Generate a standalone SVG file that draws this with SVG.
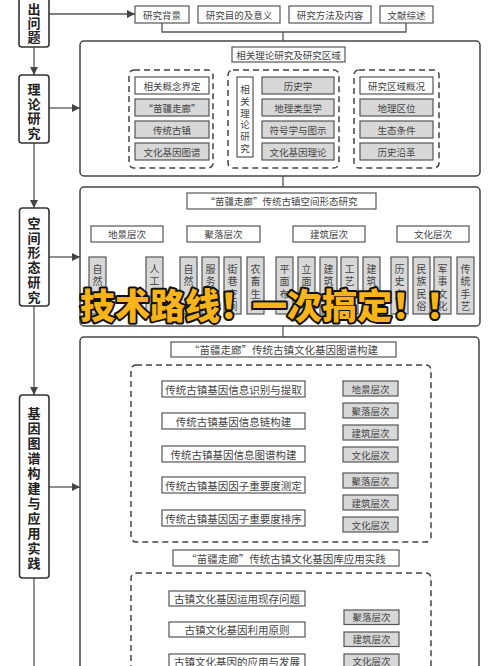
<svg xmlns="http://www.w3.org/2000/svg" width="500" height="666" viewBox="0 0 500 666">
<defs>
<marker id="ar" markerUnits="userSpaceOnUse" markerWidth="8" markerHeight="8" refX="8" refY="4" orient="auto"><path d="M0,0 L8,4 L0,8 z" fill="#444"/></marker>
<style>
.b{fill:#fff;stroke:#555;stroke-width:1.2}
.g{fill:#d8d8d8;stroke:#555;stroke-width:1.2}
.L{fill:#fff;stroke:#333;stroke-width:1.6}
.sec{fill:#fff;stroke:#444;stroke-width:1.5}
.d{fill:none;stroke:#444;stroke-width:1.5;stroke-dasharray:6 4}
.c{fill:none;stroke:#555;stroke-width:1.3}
.t{font-family:"Noto Sans CJK SC","Noto Sans",sans-serif;font-size:9.5px;fill:#444;text-anchor:middle;dominant-baseline:central}
.m{font-size:10.5px}
.lt{font-family:"Noto Sans CJK SC",sans-serif;font-size:13px;font-weight:bold;fill:#222;text-anchor:middle;dominant-baseline:central}
.v{font-size:10px}
.ov{font-family:"Noto Sans CJK SC",sans-serif;font-size:35px;font-weight:900;fill:#F8B418;stroke:#111;stroke-width:4;paint-order:stroke;stroke-linejoin:round}
</style>
</defs>
<rect width="500" height="666" fill="#fff"/>

<!-- connectors -->
<g id="connectors">
<path class="c" d="M34,47 V75" marker-end="url(#ar)"/>
<path class="c" d="M34,143 V208" marker-end="url(#ar)"/>
<path class="c" d="M34,306 V395" marker-end="url(#ar)"/>
<path class="c" d="M34,578 V666"/>
<path class="c" d="M49,14 H135" marker-end="url(#ar)"/>
<path class="c" d="M49,108 H80" marker-end="url(#ar)"/>
<path class="c" d="M49,257 H80" marker-end="url(#ar)"/>
<path class="c" d="M49,487 H80" marker-end="url(#ar)"/>
<path class="c" d="M162,23 V32 H406 V23 M283,32 V41"/>
<path class="c" d="M232,54.5 H172 V70 M345,54.5 H397 V70 M283,62 V70"/>
<path class="c" d="M283,176 V187"/>
<path class="c" d="M283,209 V217 M127,226 V217 H433 V226 M223.5,217 V226 M329,217 V226"/>
<path class="c" d="M127,242 V252 M97.5,257 V252 H154.5 V257"/>
<path class="c" d="M223.5,242 V252 M188.5,257 V252 H255.5 V257 M210.5,252 V257 M232.5,252 V257"/>
<path class="c" d="M329,242 V252 M284.5,257 V252 H371.5 V257 M306.5,252 V257 M328.5,252 V257 M349.5,252 V257"/>
<path class="c" d="M433,242 V252 M399.5,257 V252 H465.5 V257 M421.5,252 V257 M442.5,252 V257"/>
<path class="c" d="M283,326 V337"/>
<path class="c" d="M283,357 V369 H233 V381" marker-end="url(#ar)"/>
<path class="c" d="M233,397 V413" marker-end="url(#ar)"/>
<path class="c" d="M233,429 V446" marker-end="url(#ar)"/>
<path class="c" d="M233,462 V477" marker-end="url(#ar)"/>
<path class="c" d="M233,493 V510" marker-end="url(#ar)"/>
<path class="c" d="M305,389 H316 V454 H305 M316,421 H328 M343,388.5 H328 V454.5 H343"/>
<path class="c" d="M305,485 H316 V518 H305 M316,501 H328 M343,480.5 H328 V524.5 H343"/>
<path class="c" d="M286,566 V579 H236 V591" marker-end="url(#ar)"/>
<path class="c" d="M236,606 V622" marker-end="url(#ar)"/>
<path class="c" d="M236,637 V654" marker-end="url(#ar)"/>
<path class="c" d="M305,661 H329 M344,617 H329 V670 M329,639 H344 M329,661 H344"/>
</g>

<!-- left column -->
<g id="n-tichu"><rect class="L" x="19" y="-20" width="30" height="67" rx="3"/>
<text class="lt"><tspan x="34" y="8">出</tspan><tspan x="34" y="22">问</tspan><tspan x="34" y="36">题</tspan></text></g>
<g id="n-lilun"><rect class="L" x="19" y="75" width="30" height="68" rx="3"/>
<text class="lt"><tspan x="34" y="88">理</tspan><tspan x="34" y="102.5">论</tspan><tspan x="34" y="117">研</tspan><tspan x="34" y="131.5">究</tspan></text></g>
<g id="n-kongjian"><rect class="L" x="19.5" y="208" width="29.5" height="98" rx="3"/>
<text class="lt"><tspan x="34" y="222">空</tspan><tspan x="34" y="236.7">间</tspan><tspan x="34" y="251.4">形</tspan><tspan x="34" y="266.1">态</tspan><tspan x="34" y="280.8">研</tspan><tspan x="34" y="295.5">究</tspan></text></g>
<g id="n-jiyin"><rect class="L" x="19.5" y="395" width="29.5" height="183" rx="3"/>
<text class="lt"><tspan x="34" y="412">基</tspan><tspan x="34" y="427">因</tspan><tspan x="34" y="442">图</tspan><tspan x="34" y="457">谱</tspan><tspan x="34" y="472">构</tspan><tspan x="34" y="487">建</tspan><tspan x="34" y="502">与</tspan><tspan x="34" y="517">应</tspan><tspan x="34" y="532">用</tspan><tspan x="34" y="547">实</tspan><tspan x="34" y="562">践</tspan></text></g>

<!-- top row -->
<g id="n-beijing"><rect class="b" x="135" y="6" width="54" height="17"/><text class="t" x="162" y="14.5">研究背景</text></g>
<g id="n-mudi"><rect class="b" x="198" y="6" width="82" height="17"/><text class="t" x="239" y="14.5">研究目的及意义</text></g>
<g id="n-fangfa"><rect class="b" x="289" y="6" width="82" height="17"/><text class="t" x="330" y="14.5">研究方法及内容</text></g>
<g id="n-wenxian"><rect class="b" x="380" y="6" width="53" height="17"/><text class="t" x="406.5" y="14.5">文献综述</text></g>

<!-- theory section -->
<g id="sec-theory">
<rect class="sec" x="80" y="41" width="400" height="135" rx="4"/>
<rect class="b" x="232" y="47" width="113" height="15"/><text class="t" x="288.5" y="54.5">相关理论研究及研究区域</text>
<rect class="d" x="129" y="70" width="84" height="98" rx="5"/>
<rect class="d" x="228" y="70" width="111" height="98" rx="5"/>
<rect class="d" x="354" y="70" width="85" height="98" rx="5"/>
</g>
<g id="n-gainian"><rect class="b" x="135" y="77" width="74" height="17"/><text class="t" x="172" y="85.5">相关概念界定</text></g>
<g id="n-miaojiang"><rect class="g" x="135" y="99" width="74" height="17"/><text class="t" x="172" y="107.5">“苗疆走廊”</text></g>
<g id="n-guzhen"><rect class="g" x="135" y="121" width="74" height="17"/><text class="t" x="172" y="129.5">传统古镇</text></g>
<g id="n-tupu"><rect class="g" x="135" y="143" width="74" height="17"/><text class="t" x="172" y="151.5">文化基因图谱</text></g>
<g id="n-xiangguan"><rect class="b" x="237" y="77" width="16" height="80"/>
<text class="t"><tspan x="245" y="89">相</tspan><tspan x="245" y="100.8">关</tspan><tspan x="245" y="112.6">理</tspan><tspan x="245" y="124.4">论</tspan><tspan x="245" y="136.2">研</tspan><tspan x="245" y="148">究</tspan></text></g>
<g id="n-lishixue"><rect class="g" x="262" y="77" width="72" height="17"/><text class="t" x="298" y="85.5">历史学</text></g>
<g id="n-dili"><rect class="g" x="262" y="99" width="72" height="17"/><text class="t" x="298" y="107.5">地理类型学</text></g>
<g id="n-fuhao"><rect class="g" x="262" y="121" width="72" height="17"/><text class="t" x="298" y="129.5">符号学与图示</text></g>
<g id="n-jiyinlilun"><rect class="g" x="262" y="143" width="72" height="17"/><text class="t" x="298" y="151.5">文化基因理论</text></g>
<g id="n-quyu"><rect class="b" x="360" y="77" width="73" height="17"/><text class="t" x="396.5" y="85.5">研究区域概况</text></g>
<g id="n-quwei"><rect class="g" x="360" y="99" width="73" height="17"/><text class="t" x="396.5" y="107.5">地理区位</text></g>
<g id="n-shengtai"><rect class="g" x="360" y="121" width="73" height="17"/><text class="t" x="396.5" y="129.5">生态条件</text></g>
<g id="n-yange"><rect class="g" x="360" y="143" width="73" height="17"/><text class="t" x="396.5" y="151.5">历史沿革</text></g>

<!-- spatial section -->
<g id="sec-spatial"><rect class="sec" x="80" y="187" width="400" height="139" rx="4"/></g>
<g id="n-sp-title"><rect class="b" x="187" y="193" width="189" height="16"/><text class="t" x="281.5" y="201">“苗疆走廊”传统古镇空间形态研究</text></g>
<g id="n-dijing"><rect class="b" x="91" y="226" width="72" height="16"/><text class="t" x="127" y="234">地景层次</text></g>
<g id="n-juluo"><rect class="b" x="187" y="226" width="73" height="16"/><text class="t" x="223.5" y="234">聚落层次</text></g>
<g id="n-jianzhu"><rect class="b" x="293" y="226" width="72" height="16"/><text class="t" x="329" y="234">建筑层次</text></g>
<g id="n-wenhua"><rect class="b" x="397" y="226" width="72" height="16"/><text class="t" x="433" y="234">文化层次</text></g>

<g id="n-s1"><rect class="g" x="89" y="257" width="17" height="57"/><text class="t v"><tspan x="97.5" y="268">自</tspan><tspan x="97.5" y="280.3">然</tspan></text></g>
<g id="n-s2"><rect class="g" x="146" y="257" width="17" height="57"/><text class="t v"><tspan x="154.5" y="268">人</tspan><tspan x="154.5" y="280.3">工</tspan></text></g>
<g id="n-s3"><rect class="g" x="180" y="257" width="17" height="57"/><text class="t v"><tspan x="188.5" y="268">自</tspan><tspan x="188.5" y="280.3">然</tspan></text></g>
<g id="n-s4"><rect class="g" x="202" y="257" width="17" height="57"/><text class="t v"><tspan x="210.5" y="268">服</tspan><tspan x="210.5" y="280.3">务</tspan></text></g>
<g id="n-s5"><rect class="g" x="224" y="257" width="17" height="57"/><text class="t v"><tspan x="232.5" y="268">街</tspan><tspan x="232.5" y="280.3">巷</tspan><tspan x="232.5" y="292.6">空</tspan><tspan x="232.5" y="304.9">间</tspan></text></g>
<g id="n-s6"><rect class="g" x="247" y="257" width="17" height="57"/><text class="t v"><tspan x="255.5" y="268">农</tspan><tspan x="255.5" y="280.3">畜</tspan><tspan x="255.5" y="292.6">生</tspan><tspan x="255.5" y="304.9">产</tspan></text></g>
<g id="n-s7"><rect class="g" x="276" y="257" width="17" height="57"/><text class="t v"><tspan x="284.5" y="268">平</tspan><tspan x="284.5" y="280.3">面</tspan><tspan x="284.5" y="292.6">布</tspan></text></g>
<g id="n-s8"><rect class="g" x="298" y="257" width="17" height="57"/><text class="t v"><tspan x="306.5" y="268">立</tspan><tspan x="306.5" y="280.3">面</tspan></text></g>
<g id="n-s9"><rect class="g" x="320" y="257" width="17" height="57"/><text class="t v"><tspan x="328.5" y="268">建</tspan><tspan x="328.5" y="280.3">筑</tspan></text></g>
<g id="n-s10"><rect class="g" x="341" y="257" width="17" height="57"/><text class="t v"><tspan x="349.5" y="268">工</tspan><tspan x="349.5" y="280.3">艺</tspan></text></g>
<g id="n-s11"><rect class="g" x="363" y="257" width="17" height="57"/><text class="t v"><tspan x="371.5" y="268">建</tspan><tspan x="371.5" y="280.3">筑</tspan></text></g>
<g id="n-s12"><rect class="g" x="391" y="257" width="17" height="57"/><text class="t v"><tspan x="399.5" y="268">历</tspan><tspan x="399.5" y="280.3">史</tspan><tspan x="399.5" y="292.6">文</tspan></text></g>
<g id="n-s13"><rect class="g" x="413" y="257" width="17" height="57"/><text class="t v"><tspan x="421.5" y="268">民</tspan><tspan x="421.5" y="280.3">族</tspan><tspan x="421.5" y="292.6">民</tspan><tspan x="421.5" y="304.9">俗</tspan></text></g>
<g id="n-s14"><rect class="g" x="434" y="257" width="17" height="57"/><text class="t v"><tspan x="442.5" y="268">军</tspan><tspan x="442.5" y="280.3">事</tspan><tspan x="442.5" y="292.6">文</tspan><tspan x="442.5" y="304.9">化</tspan></text></g>
<g id="n-s15"><rect class="g" x="457" y="257" width="17" height="57"/><text class="t v"><tspan x="465.5" y="268">传</tspan><tspan x="465.5" y="280.3">统</tspan><tspan x="465.5" y="292.6">手</tspan><tspan x="465.5" y="304.9">艺</tspan></text></g>

<!-- gene section -->
<g id="sec-gene"><rect class="sec" x="80" y="337" width="399" height="345" rx="4"/>
<rect class="d" x="131" y="365" width="300" height="177" rx="5"/>
<rect class="d" x="131" y="573" width="300" height="120" rx="5"/></g>
<g id="n-g-title"><rect class="b" x="171" y="342" width="225" height="15"/><text class="t m" x="283.5" y="349.5">“苗疆走廊”传统古镇文化基因图谱构建</text></g>
<g id="n-g1"><rect class="b" x="162" y="381" width="143" height="16"/><text class="t m" x="233.5" y="389">传统古镇基因信息识别与提取</text></g>
<g id="n-g2"><rect class="b" x="162" y="413" width="143" height="16"/><text class="t m" x="233.5" y="421">传统古镇基因信息链构建</text></g>
<g id="n-g3"><rect class="b" x="162" y="446" width="143" height="16"/><text class="t m" x="233.5" y="454">传统古镇基因信息图谱构建</text></g>
<g id="n-g4"><rect class="b" x="162" y="477" width="143" height="16"/><text class="t m" x="233.5" y="485">传统古镇基因因子重要度测定</text></g>
<g id="n-g5"><rect class="b" x="162" y="510" width="143" height="16"/><text class="t m" x="233.5" y="518">传统古镇基因因子重要度排序</text></g>
<g id="n-gl1"><rect class="g" x="343" y="381" width="55" height="15"/><text class="t" x="370.5" y="388.5">地景层次</text></g>
<g id="n-gl2"><rect class="g" x="343" y="403" width="55" height="15"/><text class="t" x="370.5" y="410.5">聚落层次</text></g>
<g id="n-gl3"><rect class="g" x="343" y="425" width="55" height="15"/><text class="t" x="370.5" y="432.5">建筑层次</text></g>
<g id="n-gl4"><rect class="g" x="343" y="447" width="55" height="15"/><text class="t" x="370.5" y="454.5">文化层次</text></g>
<g id="n-gl5"><rect class="g" x="343" y="473" width="55" height="15"/><text class="t" x="370.5" y="480.5">聚落层次</text></g>
<g id="n-gl6"><rect class="g" x="343" y="495" width="55" height="15"/><text class="t" x="370.5" y="502.5">建筑层次</text></g>
<g id="n-gl7"><rect class="g" x="343" y="517" width="55" height="15"/><text class="t" x="370.5" y="524.5">文化层次</text></g>

<g id="n-a-title"><rect class="b" x="173" y="550" width="226" height="16"/><text class="t m" x="286" y="558">“苗疆走廊”传统古镇文化基因库应用实践</text></g>
<g id="n-a1"><rect class="b" x="169" y="591" width="136" height="15"/><text class="t m" x="237" y="598.5">古镇文化基因运用现存问题</text></g>
<g id="n-a2"><rect class="b" x="169" y="622" width="136" height="15"/><text class="t m" x="237" y="629.5">古镇文化基因利用原则</text></g>
<g id="n-a3"><rect class="b" x="169" y="654" width="136" height="15"/><text class="t m" x="237" y="661.5">古镇文化基因的应用与发展</text></g>
<g id="n-al1"><rect class="g" x="344" y="610" width="55" height="14.5"/><text class="t" x="371.5" y="617.2">聚落层次</text></g>
<g id="n-al2"><rect class="g" x="344" y="632" width="55" height="14.5"/><text class="t" x="371.5" y="639.2">建筑层次</text></g>
<g id="n-al3"><rect class="g" x="344" y="654" width="55" height="14.5"/><text class="t" x="371.5" y="661.2">文化层次</text></g>

<!-- overlay caption -->
<g id="overlay">
<text class="ov" x="80" y="319">技术路线！</text>
<text class="ov" x="252" y="319">一次搞定！</text>
<text class="ov" x="426" y="319">！</text>
</g>
</svg>
